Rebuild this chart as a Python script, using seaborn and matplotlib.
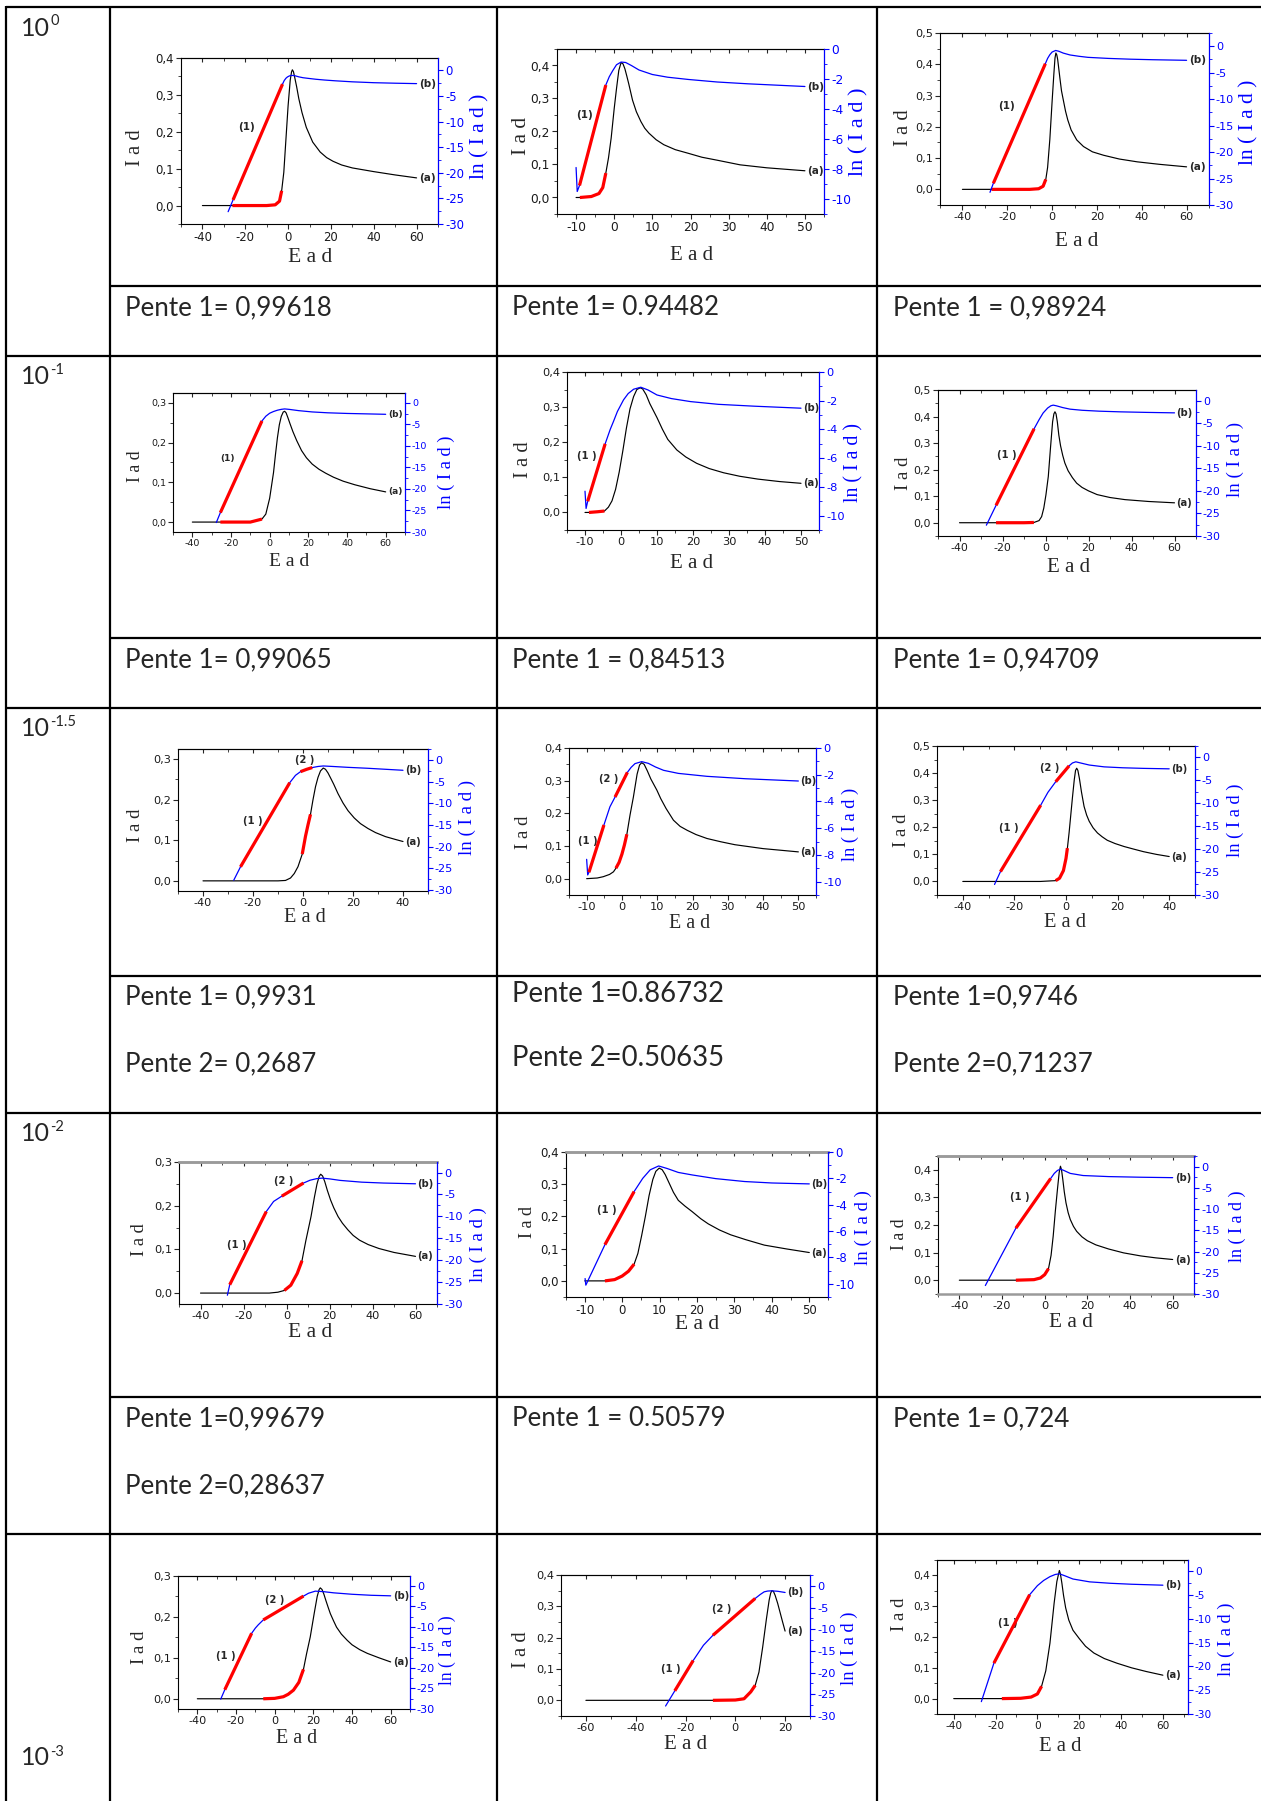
import numpy as np
import matplotlib
matplotlib.use("Agg")
import matplotlib.pyplot as plt
from matplotlib.ticker import MultipleLocator, FuncFormatter, NullFormatter
import seaborn as sns

W, H, DPI = 1261, 1801, 100

sns.set_style("ticks")
plt.rcParams.update({
    "font.family": ["DejaVu Sans"],
    "axes.unicode_minus": False,
})

BLUE = "#0000ff"
RED = "#ff0000"
SERIF = ["Liberation Serif", "DejaVu Serif"]
TEXT_FONT = ["Lato", "DejaVu Sans"]

# ---------------------------------------------------------------- data
# curve (a): I_ad vs E_ad (left axis); curve (b): ln(I_ad) vs E_ad (right axis)
# RED_*: E_ad ranges of the highlighted linear parts

# row 10^0
A11_X = [-40, -26, -10, -6, -4, -3, -2, -1, 0, 1, 1.6, 2, 2.5, 3, 4, 5, 6.5, 8.5, 11.5, 15, 18, 21, 25, 30, 35, 40, 50, 60]
A11_Y = [0, 0, 0, 0.002, 0.012, 0.04, 0.09, 0.18, 0.27, 0.34, 0.362, 0.368, 0.363, 0.35, 0.322, 0.29, 0.252, 0.212, 0.172, 0.145, 0.13, 0.12, 0.11, 0.102, 0.097, 0.092, 0.083, 0.075]
B11_X = [-28, -25.7, -2.6, -1.8, -1, -0.3, 0.5, 1, 1.6, 2.5, 3.5, 5, 7, 9.5, 13, 17, 22, 30, 40, 50, 60]
B11_Y = [-27.6, -25.3, -2.7, -2.0, -1.55, -1.3, -1.12, -1.05, -1.0, -1.02, -1.1, -1.28, -1.45, -1.58, -1.75, -1.9, -2.05, -2.25, -2.42, -2.52, -2.6]
RED_A11 = [(-26, -3)]
RED_B11 = [(-25.7, -2.6)]

A12_X = [-10, -9, -6, -4, -3, -2.2, -1.5, -0.8, 0, 0.6, 1.2, 1.8, 2.3, 2.8, 3.3, 3.8, 4.8, 5.8, 7, 8, 9.1, 11, 13, 16, 19.4, 23, 27, 33, 40, 50]
A12_Y = [0, 0, 0.003, 0.012, 0.03, 0.074, 0.12, 0.18, 0.27, 0.33, 0.385, 0.409, 0.405, 0.39, 0.368, 0.345, 0.295, 0.26, 0.23, 0.21, 0.195, 0.175, 0.16, 0.145, 0.134, 0.122, 0.113, 0.099, 0.09, 0.081]
B12_X = [-10, -9.7, -9.1, -2.2, -1.3, -0.4, 0.6, 1.8, 3, 4.5, 6.5, 10, 14, 19.4, 27, 35, 50]
B12_Y = [-7.9, -9.5, -9.1, -2.4, -1.85, -1.45, -1.05, -0.87, -0.9, -1.1, -1.4, -1.7, -1.88, -2.03, -2.2, -2.32, -2.5]
RED_A12 = [(-9, -2.2)]
RED_B12 = [(-9.1, -2.2)]

A13_X = [-40, -27, -10, -6, -4, -2.8, -2, -1, 0, 0.8, 1.3, 1.7, 2.1, 2.5, 3, 3.5, 4.2, 5, 6, 7, 8.5, 11, 14, 18, 23, 30, 38, 48, 60]
A13_Y = [0, 0, 0, 0.002, 0.01, 0.032, 0.07, 0.16, 0.28, 0.37, 0.42, 0.436, 0.43, 0.415, 0.385, 0.355, 0.315, 0.286, 0.25, 0.222, 0.19, 0.158, 0.137, 0.12, 0.109, 0.097, 0.088, 0.08, 0.072]
B13_X = [-27.7, -26.2, -3.0, -2, -1, 0, 1.6, 3, 5, 8, 12, 16, 25, 35, 45, 60]
B13_Y = [-27.6, -25.9, -3.3, -2.3, -1.6, -1.1, -0.8, -0.95, -1.3, -1.65, -1.9, -2.1, -2.3, -2.45, -2.55, -2.66]
RED_A13 = [(-27, -2.8)]
RED_B13 = [(-26.2, -3.0)]

# row 10^-1
A21_X = [-40, -25.5, -10, -4, -2, 0, 2, 3, 4, 5, 6, 7, 7.75, 8.5, 9.5, 10.5, 12, 14, 16.5, 19, 22, 25.5, 29, 33, 38, 44, 52, 60]
A21_Y = [0, 0, 0, 0.0075, 0.02, 0.06, 0.125, 0.17, 0.212, 0.245, 0.266, 0.277, 0.279, 0.275, 0.262, 0.248, 0.228, 0.205, 0.18, 0.162, 0.146, 0.133, 0.123, 0.113, 0.103, 0.094, 0.084, 0.076]
B21_X = [-27.6, -25.5, -4, -2, 0, 2, 4, 6, 7.75, 10, 15, 22, 30, 40, 50, 60]
B21_Y = [-27.8, -25.5, -4.2, -3.1, -2.4, -2.0, -1.7, -1.5, -1.4, -1.5, -1.8, -2.1, -2.3, -2.45, -2.55, -2.65]
RED_A21 = [(-25.5, -4)]
RED_B21 = [(-25.5, -4)]

A22_X = [-10, -8.9, -6.5, -4.6, -3.5, -2.5, -1.5, -0.5, 0.5, 1.5, 2.5, 3.5, 4.4, 5.3, 6, 7, 8, 9, 10, 11.5, 13, 15.5, 18, 21, 24.5, 28.5, 33, 38, 44, 50]
A22_Y = [0, 0, 0.002, 0.004, 0.015, 0.033, 0.066, 0.115, 0.175, 0.24, 0.295, 0.33, 0.35, 0.355, 0.352, 0.335, 0.31, 0.29, 0.27, 0.237, 0.208, 0.178, 0.158, 0.14, 0.125, 0.113, 0.103, 0.095, 0.088, 0.083]
B22_X = [-10, -9.7, -9.25, -4.4, -3, -2.1, -1, 0.7, 2, 3.5, 5.5, 7.5, 10, 14, 19.3, 27, 37, 50]
B22_Y = [-8.3, -9.5, -9.0, -5.0, -4.0, -3.45, -2.75, -1.94, -1.5, -1.2, -1.06, -1.25, -1.6, -1.85, -2.06, -2.25, -2.38, -2.52]
RED_A22 = [(-8.9, -4.6)]
RED_B22 = [(-9.25, -4.4)]

A23_X = [-40, -23, -10, -5.4, -3, -1.8, -0.8, 0.2, 1.3, 2.3, 3.3, 3.9, 4.4, 4.9, 5.5, 6.2, 7, 8, 9, 10.5, 12.5, 14.5, 17, 20, 24, 30, 37, 48, 60]
A23_Y = [0, 0, 0, 0.001, 0.008, 0.023, 0.055, 0.105, 0.174, 0.28, 0.38, 0.41, 0.418, 0.41, 0.38, 0.33, 0.29, 0.254, 0.225, 0.196, 0.17, 0.149, 0.133, 0.12, 0.106, 0.095, 0.087, 0.08, 0.075]
B23_X = [-27.5, -23, -5.3, -3, -1.1, 1, 2.5, 3.6, 5, 8, 11.4, 17, 25, 35, 47, 60]
B23_Y = [-27.6, -23.2, -6.2, -4.2, -2.7, -1.6, -1.1, -0.96, -1.1, -1.5, -1.85, -2.1, -2.3, -2.45, -2.57, -2.67]
RED_A23 = [(-23, -5.4)]
RED_B23 = [(-23, -5.3)]

# row 10^-1.5
A31_X = [-40, -10, -7, -5, -3.5, -2, -0.3, 1, 2, 3, 4, 5, 6, 7, 8.1, 9, 10, 11, 12.3, 14, 16, 18, 20.5, 23, 26, 29, 33, 37, 40]
A31_Y = [0, 0, 0.001, 0.007, 0.018, 0.035, 0.066, 0.11, 0.138, 0.164, 0.2, 0.232, 0.255, 0.271, 0.278, 0.275, 0.266, 0.254, 0.238, 0.215, 0.192, 0.173, 0.155, 0.141, 0.129, 0.119, 0.109, 0.102, 0.097]
B31_X = [-27.7, -25, -5.3, -3, -1, 1.5, 3.7, 6, 8.1, 12, 18, 25.7, 33, 40]
B31_Y = [-27.8, -24.7, -5.2, -3.5, -2.65, -2.1, -1.7, -1.45, -1.33, -1.45, -1.65, -1.86, -2.1, -2.33]
RED_A31 = [(-0.3, 3)]
RED_B31 = [(-25, -5.3), (-1, 3.7)]

A32_X = [-10, -7, -5.3, -3.5, -2.4, -1.7, -0.8, 0, 0.7, 1.4, 2.3, 3.25, 4.3, 5, 5.6, 6.3, 7.2, 8.2, 9.9, 11, 12.5, 14.6, 16.5, 18.5, 21, 24.1, 28, 32, 40, 50]
A32_Y = [0, 0.002, 0.006, 0.013, 0.021, 0.032, 0.05, 0.075, 0.103, 0.136, 0.195, 0.25, 0.32, 0.348, 0.355, 0.35, 0.33, 0.305, 0.271, 0.245, 0.215, 0.179, 0.16, 0.148, 0.135, 0.123, 0.113, 0.104, 0.092, 0.082]
B32_X = [-10, -9.7, -9.35, -5.1, -3.4, -1.95, 1.55, 2.6, 3.7, 5.6, 7.5, 9.5, 11.8, 16, 24.1, 35, 50]
B32_Y = [-8.33, -9.5, -9.3, -5.76, -4.4, -3.67, -1.82, -1.45, -1.17, -1.02, -1.15, -1.42, -1.67, -1.9, -2.12, -2.3, -2.47]
RED_A32 = [(-1.7, 1.4)]
RED_B32 = [(-9.35, -5.1), (-1.95, 1.55)]

A33_X = [-40, -10, -4, -2.5, -1, 0, 0.54, 1.2, 1.8, 2.5, 3.2, 3.7, 4.15, 4.6, 5.2, 6, 7, 8, 9, 10.5, 12.2, 14, 16, 19, 22.5, 26, 30, 35, 40]
A33_Y = [0, 0, 0.003, 0.012, 0.04, 0.085, 0.123, 0.18, 0.24, 0.31, 0.375, 0.41, 0.418, 0.41, 0.38, 0.33, 0.277, 0.245, 0.222, 0.198, 0.179, 0.165, 0.152, 0.14, 0.129, 0.12, 0.11, 0.1, 0.092]
B33_X = [-27.7, -25.4, -9.8, -7, -4, 1.2, 2.5, 3.8, 6, 9, 14.8, 22, 30, 40]
B33_Y = [-27.7, -24.9, -10.4, -7.6, -5.3, -1.83, -1.2, -0.95, -1.25, -1.65, -2.05, -2.25, -2.38, -2.48]
RED_A33 = [(-4, 0.54)]
RED_B33 = [(-25.4, -9.8), (-4, 1.2)]

# row 10^-2
A41_X = [-40, -8, -4, -1, 2, 5, 7.2, 9, 11.4, 13, 14.2, 15.2, 15.9, 16.8, 17.8, 19, 20.5, 22, 24, 26, 28.5, 31, 34, 38, 43, 50, 60]
A41_Y = [0, 0, 0.002, 0.006, 0.018, 0.045, 0.074, 0.12, 0.175, 0.22, 0.25, 0.267, 0.272, 0.268, 0.255, 0.235, 0.213, 0.195, 0.175, 0.16, 0.145, 0.132, 0.121, 0.111, 0.102, 0.093, 0.084]
B41_X = [-27.5, -26.4, -9.4, -6, -2.2, 7.9, 11, 14, 16.6, 20, 25, 35, 45, 60]
B41_Y = [-28, -25.6, -8.9, -6.6, -5.4, -2.4, -1.75, -1.4, -1.28, -1.45, -1.8, -2.2, -2.4, -2.57]
RED_A41 = [(-1, 7.2)]
RED_B41 = [(-26.4, -9.4), (-2.2, 7.9)]

A42_X = [-10, -4.6, -2, 0, 1.7, 3.2, 4.2, 5.2, 6.2, 7.2, 8.2, 9, 9.9, 10.7, 11.5, 12.5, 13.7, 15, 16.8, 18.7, 21, 23, 26, 29, 33, 38, 44, 50]
A42_Y = [0, 0, 0.004, 0.015, 0.03, 0.052, 0.085, 0.14, 0.2, 0.265, 0.315, 0.34, 0.35, 0.345, 0.33, 0.305, 0.275, 0.25, 0.232, 0.215, 0.193, 0.177, 0.158, 0.143, 0.128, 0.111, 0.099, 0.088]
B42_X = [-9.9, -9.7, -4.6, 3.2, 5.5, 7.5, 9.75, 12, 15, 18.7, 25, 32.7, 40, 50]
B42_Y = [-9.6, -10.1, -7.03, -3.0, -2.0, -1.35, -1.06, -1.25, -1.55, -1.74, -2.02, -2.24, -2.35, -2.42]
RED_A42 = [(-4.6, 3.2)]
RED_B42 = [(-4.6, 3.2)]

A43_X = [-40, -13.5, -5, -2, 0, 1.8, 3, 4, 5, 6, 6.8, 7.4, 7.9, 8.5, 9.2, 10, 11, 12, 13.5, 15, 17.5, 20, 24, 30, 37, 45, 52, 60]
A43_Y = [0, 0, 0.002, 0.008, 0.02, 0.042, 0.09, 0.16, 0.25, 0.33, 0.39, 0.413, 0.4, 0.365, 0.32, 0.28, 0.245, 0.22, 0.195, 0.177, 0.157, 0.143, 0.128, 0.113, 0.099, 0.088, 0.081, 0.075]
B43_X = [-27.8, -13.5, 2.8, 4.5, 6, 7.4, 9, 12, 18, 30, 45, 60]
B43_Y = [-28, -14.5, -2.8, -1.6, -0.9, -0.6, -0.9, -1.6, -2.1, -2.35, -2.5, -2.6]
RED_A43 = [(-13.5, 1.8)]
RED_B43 = [(-13.5, 2.8)]

# row 10^-3
A51_X = [-40, -5.9, 0, 4.5, 7, 9.7, 12.5, 14.9, 16.5, 18.4, 20.5, 22, 23, 23.6, 24.5, 25.5, 26.5, 27.7, 28.8, 30.5, 32, 34.5, 37.5, 40, 44, 47.9, 54, 60]
A51_Y = [0, 0, 0.001, 0.005, 0.011, 0.021, 0.04, 0.072, 0.11, 0.151, 0.21, 0.25, 0.267, 0.271, 0.267, 0.255, 0.24, 0.223, 0.208, 0.19, 0.175, 0.158, 0.143, 0.132, 0.12, 0.111, 0.1, 0.09]
B51_X = [-27.9, -25.8, -11.9, -10, -8.5, -5.9, 14.9, 17.5, 21, 25, 30.5, 40, 50, 60]
B51_Y = [-27.6, -25.3, -11.55, -10.3, -9.5, -8.3, -2.5, -1.8, -1.29, -1.4, -1.7, -2.05, -2.3, -2.43]
RED_A51 = [(-5.9, 14.9)]
RED_B51 = [(-25.8, -11.9), (-5.9, 14.9)]

A52_X = [-60, -9, 0, 3.5, 6.2, 8, 9.5, 11, 12.5, 13.6, 14.2, 14.7, 15.3, 16, 17, 18, 19, 20]
A52_Y = [0, 0, 0.001, 0.005, 0.027, 0.048, 0.09, 0.17, 0.26, 0.32, 0.342, 0.35, 0.348, 0.335, 0.31, 0.28, 0.25, 0.221]
B52_X = [-28, -24.3, -16.9, -12.8, -9, 8, 10, 11.6, 13, 14.5, 17, 20]
B52_Y = [-27.7, -24.2, -17.2, -13.7, -11.4, -2.9, -2.0, -1.38, -1.2, -1.15, -1.25, -1.53]
RED_A52 = [(-9, 8)]
RED_B52 = [(-24.3, -16.9), (-9, 8)]

A53_X = [-40, -17, -8, -3, 0, 2, 4, 6, 8, 9.3, 10.5, 11, 11.7, 12.5, 13.5, 15, 17, 20, 23, 27, 32, 38, 45, 52, 60]
A53_Y = [0, 0, 0.001, 0.005, 0.015, 0.04, 0.09, 0.18, 0.31, 0.38, 0.416, 0.405, 0.375, 0.335, 0.295, 0.255, 0.222, 0.195, 0.17, 0.148, 0.13, 0.115, 0.1, 0.088, 0.076]
B53_X = [-26.8, -20.8, -3.7, 0, 3, 6, 8.5, 10.5, 13, 17, 25, 35, 45, 60]
B53_Y = [-27.4, -19.3, -4.9, -3.0, -1.9, -1.1, -0.65, -0.5, -0.9, -1.6, -2.2, -2.5, -2.7, -2.9]
RED_A53 = [(-17, 2)]
RED_B53 = [(-20.8, -3.7)]

ROW_EXPONENTS = ["0", "-1", "-1.5", "-2", "-3"]

PENTE_TEXT = [
    ["Pente 1= 0,99618"], ["Pente 1= 0.94482"], ["Pente 1 = 0,98924"],
    ["Pente 1= 0,99065"], ["Pente 1 = 0,84513"], ["Pente 1= 0,94709"],
    ["Pente 1= 0,9931", "Pente 2= 0,2687"], ["Pente 1=0.86732", "Pente 2=0.50635"],
    ["Pente 1=0,9746", "Pente 2=0,71237"],
    ["Pente 1=0,99679", "Pente 2=0,28637"], ["Pente 1 = 0.50579"], ["Pente 1= 0,724"],
]

# ---------------------------------------------------------------- layout
# box = (left, right, top, bottom) in pixels; label centres in pixels
# fs: tick labels, xls/yls/rls: axis titles, an: curve tags
PANELS = [
    dict(a=(A11_X, A11_Y), b=(B11_X, B11_Y), ra=RED_A11, rb=RED_B11,
         box=(181, 438, 58, 224), xlim=(-50, 70), xs=20, ylim=(-0.05, 0.4), lnlim=(-30, 2.4), lns=5,
         xl=(310, 258), yl=(136, 148), rl=(480, 136), fs=8.4, xls=15.6, yls=14.9, rls=15.4, an=7.5,
         tags=[("(1)", -19.4, 0.213)]),
    dict(a=(A12_X, A12_Y), b=(B12_X, B12_Y), ra=RED_A12, rb=RED_B12,
         box=(557, 824, 49, 214), xlim=(-15, 55), xs=10, ylim=(-0.05, 0.45), lnlim=(-11, 0), lns=2,
         xl=(692, 255), yl=(521, 136), rl=(859, 132), fs=8.8, xls=15, yls=15.4, rls=16, an=7.5,
         tags=[("(1)", -7.9, 0.25)]),
    dict(a=(A13_X, A13_Y), b=(B13_X, B13_Y), ra=RED_A13, rb=RED_B13,
         box=(940, 1209, 33, 205), xlim=(-50, 70), xs=20, ylim=(-0.05, 0.5), lnlim=(-30, 2.5), lns=5,
         xl=(1077, 242), yl=(903, 128), rl=(1249, 122), fs=8.1, xls=15.2, yls=14.9, rls=15.4, an=7.5,
         tags=[("(1)", -20.5, 0.265)]),
    dict(a=(A21_X, A21_Y), b=(B21_X, B21_Y), ra=RED_A21, rb=RED_B21,
         box=(173, 405, 393, 532), xlim=(-50, 70), xs=20, ylim=(-0.025, 0.325), lnlim=(-30, 2.3), lns=5,
         xl=(289, 561), yl=(135, 466), rl=(446, 472), fs=6.8, xls=14, yls=12.8, rls=13.3, an=6.5,
         tags=[("(1)", -21.6, 0.16)]),
    dict(a=(A22_X, A22_Y), b=(B22_X, B22_Y), ra=RED_A22, rb=RED_B22,
         box=(567, 819, 372, 530), xlim=(-15, 55), xs=10, ylim=(-0.05, 0.4), lnlim=(-11, 0), lns=2,
         xl=(692, 564), yl=(524, 460), rl=(854, 462), fs=8.2, xls=15, yls=14.9, rls=14.2, an=7.2,
         tags=[("(1 )", -9.4, 0.16)]),
    dict(a=(A23_X, A23_Y), b=(B23_X, B23_Y), ra=RED_A23, rb=RED_B23,
         box=(938, 1196, 390, 536), xlim=(-50, 70), xs=20, ylim=(-0.05, 0.5), lnlim=(-30, 2.4), lns=5,
         xl=(1069, 567), yl=(903, 473), rl=(1235, 459), fs=7.9, xls=15, yls=13.5, rls=13.6, an=7.2,
         tags=[("(1 )", -18.2, 0.255)]),
    dict(a=(A31_X, A31_Y), b=(B31_X, B31_Y), ra=RED_A31, rb=RED_B31,
         box=(178, 428, 749, 891), xlim=(-50, 50), xs=20, ylim=(-0.025, 0.325), lnlim=(-30.3, 2.6), lns=5,
         xl=(305, 917), yl=(135, 825), rl=(467, 817), fs=8.1, xls=14.6, yls=13.5, rls=13.6, an=7.2,
         tags=[("(1 )", -20.2, 0.1475), ("(2 )", 0.5, 0.2985)]),
    dict(a=(A32_X, A32_Y), b=(B32_X, B32_Y), ra=RED_A32, rb=RED_B32,
         box=(569, 816, 748, 895), xlim=(-15, 55), xs=10, ylim=(-0.05, 0.4), lnlim=(-11, 0), lns=2,
         xl=(690, 923), yl=(523, 832), rl=(850, 824), fs=8.2, xls=14.4, yls=13.5, rls=13.2, an=7.2,
         tags=[("(1 )", -9.7, 0.116), ("(2 )", -3.66, 0.304)]),
    dict(a=(A33_X, A33_Y), b=(B33_X, B33_Y), ra=RED_A33, rb=RED_B33,
         box=(937, 1195, 746, 895), xlim=(-50, 50), xs=20, ylim=(-0.05, 0.5), lnlim=(-30, 2.5), lns=5,
         xl=(1065, 922), yl=(901, 830), rl=(1235, 820), fs=8.1, xls=14.8, yls=13.5, rls=13.3, an=7.2,
         tags=[("(1 )", -22.1, 0.197), ("(2 )", -6.2, 0.42)]),
    dict(a=(A41_X, A41_Y), b=(B41_X, B41_Y), ra=RED_A41, rb=RED_B41,
         box=(179, 437, 1162, 1304), xlim=(-50, 70), xs=20, ylim=(-0.025, 0.3), lnlim=(-30, 2.4), lns=5,
         xl=(310, 1332), yl=(139, 1240), rl=(478, 1245), fs=8.2, xls=15.6, yls=13.2, rls=13.5, an=7.2,
         tags=[("(1 )", -23.3, 0.109), ("(2 )", -1.5, 0.257)], gray_top=True),
    dict(a=(A42_X, A42_Y), b=(B42_X, B42_Y), ra=RED_A42, rb=RED_B42,
         box=(566, 828, 1152, 1297), xlim=(-15, 55), xs=10, ylim=(-0.05, 0.4), lnlim=(-11, 0), lns=2,
         xl=(697, 1324), yl=(527, 1222), rl=(863, 1228), fs=8.5, xls=15.5, yls=13.1, rls=13.5, an=7.2,
         tags=[("(1 )", -4.0, 0.219)], gray_top=True),
    dict(a=(A43_X, A43_Y), b=(B43_X, B43_Y), ra=RED_A43, rb=RED_B43,
         box=(938, 1194, 1156, 1294), xlim=(-50, 70), xs=20, ylim=(-0.05, 0.45), lnlim=(-30, 2.5), lns=5,
         xl=(1071, 1322), yl=(899, 1234), rl=(1237, 1226), fs=8.2, xls=15.3, yls=12.8, rls=13, an=7.2,
         tags=[("(1 )", -11.7, 0.302)], gray_top=True, gray_bottom=True),
    dict(a=(A51_X, A51_Y), b=(B51_X, B51_Y), ra=RED_A51, rb=RED_B51,
         box=(178, 410, 1576, 1709), xlim=(-50, 70), xs=20, ylim=(-0.025, 0.3), lnlim=(-30, 2.4), lns=5,
         xl=(297, 1738), yl=(139, 1647), rl=(447, 1650), fs=8.1, xls=14.4, yls=13.5, rls=12.7, an=7.2,
         tags=[("(1 )", -25.4, 0.104), ("(2 )", 0.2, 0.241)]),
    dict(a=(A52_X, A52_Y), b=(B52_X, B52_Y), ra=RED_A52, rb=RED_B52,
         box=(561, 810, 1575, 1716), xlim=(-70, 30), xs=20, ylim=(-0.05, 0.4), lnlim=(-30, 2.5), lns=5,
         xl=(686, 1744), yl=(522, 1650), rl=(849, 1648), fs=8.2, xls=15, yls=14.9, rls=13.3, an=7.2,
         tags=[("(1 )", -25.7, 0.101), ("(2 )", -5.3, 0.29)]),
    dict(a=(A53_X, A53_Y), b=(B53_X, B53_Y), ra=RED_A53, rb=RED_B53,
         box=(937, 1188, 1560, 1714), xlim=(-48, 72), xs=20, ylim=(-0.05, 0.45), lnlim=(-30, 2.4), lns=5,
         xl=(1060, 1746), yl=(900, 1614), rl=(1226, 1639), fs=7.6, xls=14.9, yls=13.5, rls=13.3, an=7.2,
         tags=[("(1 )", -14.2, 0.246)]),
]

ROW_TOPS = [7, 356, 708, 1113, 1534]
SUB_LINES = [286, 638.5, 976, 1396.5]
COL_X = [6, 110, 496.5, 877]
ROW_BASE = [36, 384, 736, 1141, 1765]
ROW_SUP_BASE = [25, 374, 726, 1131, 1756]
PENTE_X = [125, 511.5, 893]
PENTE_BASE = [[315], [667], [1004, 1071.5], [1426, 1493]]


def comma_fmt(v, _):
    if abs(v) < 1e-9:
        v = 0.0
    return f"{v:.1f}".replace(".", ",")


def int_fmt(v, _):
    return f"{int(round(v))}"


fig = plt.figure(figsize=(W / DPI, H / DPI), dpi=DPI)

bg = fig.add_axes([0, 0, 1, 1])
bg.set_xlim(0, W)
bg.set_ylim(H, 0)
bg.axis("off")
bg.set_zorder(-5)

# table grid
TLW = 1.6
for x in COL_X:
    bg.plot([x, x], [ROW_TOPS[0] - 1, H], color="black", lw=TLW, solid_capstyle="butt")
for y in ROW_TOPS:
    bg.plot([COL_X[0], W], [y, y], color="black", lw=TLW, solid_capstyle="butt")
for y in SUB_LINES:
    bg.plot([COL_X[1], W], [y, y], color="black", lw=TLW, solid_capstyle="butt")

# concentration labels in the first column
for base, sup_base, e in zip(ROW_BASE, ROW_SUP_BASE, ROW_EXPONENTS):
    bg.text(21, base, "10", fontfamily=TEXT_FONT, fontsize=18, va="baseline", ha="left")
    bg.text(50.5, sup_base, e, fontfamily=TEXT_FONT, fontsize=10.5, va="baseline", ha="left")

# slope values under each graph
for i, lines in enumerate(PENTE_TEXT):
    row, col = divmod(i, 3)
    narrow = (row == 2 and col == 1)
    for k, s in enumerate(lines):
        y = [1001.5, 1066][k] if narrow else PENTE_BASE[row][k]
        bg.text(PENTE_X[col], y, s, fontfamily=TEXT_FONT, fontsize=19.8 if narrow else 18.7,
                va="baseline", ha="left")


def draw_panel(p):
    l, r, t, b = p["box"]
    w, h = r - l, b - t
    ax = fig.add_axes([l / W, 1 - b / H, w / W, h / H])
    ax.patch.set_alpha(0)
    ax2 = ax.twinx()

    xa, ya = np.asarray(p["a"][0], float), np.asarray(p["a"][1], float)
    xb, yb = np.asarray(p["b"][0], float), np.asarray(p["b"][1], float)

    sns.lineplot(x=xa, y=ya, ax=ax, color="black", linewidth=0.85, sort=False,
                 estimator=None, legend=False)
    for lo, hi in p["ra"]:
        m = (xa >= lo - 1e-9) & (xa <= hi + 1e-9)
        sns.lineplot(x=xa[m], y=ya[m], ax=ax, color=RED, linewidth=2.3, sort=False,
                     estimator=None, legend=False, solid_capstyle="butt")
    sns.lineplot(x=xb, y=yb, ax=ax2, color=BLUE, linewidth=0.9, sort=False,
                 estimator=None, legend=False)
    for lo, hi in p["rb"]:
        m = (xb >= lo - 1e-9) & (xb <= hi + 1e-9)
        sns.lineplot(x=xb[m], y=yb[m], ax=ax2, color=RED, linewidth=2.3, sort=False,
                     estimator=None, legend=False, solid_capstyle="butt")

    ax.set_xlim(*p["xlim"])
    ax.set_ylim(*p["ylim"])
    ax2.set_ylim(*p["lnlim"])

    ax.xaxis.set_major_locator(MultipleLocator(p["xs"]))
    ax.xaxis.set_minor_locator(MultipleLocator(p["xs"] / 2))
    ax.xaxis.set_major_formatter(FuncFormatter(int_fmt))
    ax.yaxis.set_major_locator(MultipleLocator(0.1))
    ax.yaxis.set_minor_locator(MultipleLocator(0.05))
    ax.yaxis.set_major_formatter(FuncFormatter(comma_fmt))
    ax2.yaxis.set_major_locator(MultipleLocator(p["lns"]))
    ax2.yaxis.set_minor_locator(MultipleLocator(p["lns"] / 2))
    ax2.yaxis.set_major_formatter(FuncFormatter(int_fmt))

    fs = p["fs"]
    ax.tick_params(axis="x", which="both", bottom=True, top=False, direction="out")
    ax.tick_params(axis="y", which="both", left=True, right=False, direction="out")
    ax.tick_params(which="major", length=3.5, width=0.8, labelsize=fs, labelcolor="#1a1a1a", pad=1.5)
    ax.tick_params(which="minor", length=2, width=0.6)
    ax2.tick_params(axis="y", which="both", direction="out", colors=BLUE, labelsize=fs, pad=1.5)
    ax2.tick_params(which="major", length=3.5, width=0.8)
    ax2.tick_params(which="minor", length=2, width=0.6)

    for s in ("left", "bottom", "top"):
        ax.spines[s].set_linewidth(0.8)
        ax.spines[s].set_color("black")
        ax2.spines[s].set_visible(False)
    ax.spines["right"].set_visible(False)
    ax2.spines["right"].set_color(BLUE)
    ax2.spines["right"].set_linewidth(0.9)

    top = ax.secondary_xaxis("top")
    top.xaxis.set_major_locator(MultipleLocator(p["xs"]))
    top.xaxis.set_minor_locator(MultipleLocator(p["xs"] / 2))
    top.xaxis.set_major_formatter(NullFormatter())
    top.tick_params(axis="x", which="major", direction="in", length=3, width=0.8)
    top.tick_params(axis="x", which="minor", direction="in", length=1.8, width=0.6)
    top.spines["top"].set_linewidth(0.8)
    if p.get("gray_top"):
        top.spines["top"].set_color("#9a9a9a")
        top.spines["top"].set_linewidth(1.8)
        ax.spines["top"].set_color("#9a9a9a")
        ax.spines["top"].set_linewidth(1.8)
    if p.get("gray_bottom"):
        ax.spines["bottom"].set_color("#9a9a9a")
        ax.spines["bottom"].set_linewidth(1.8)

    ax.set_xlabel("E a d", fontfamily=SERIF, fontsize=p["xls"], va="center", ha="center")
    ax.xaxis.set_label_coords((p["xl"][0] - l) / w, (b - p["xl"][1]) / h)
    ax.set_ylabel("I a d", fontfamily=SERIF, fontsize=p["yls"], va="center", ha="center")
    ax.yaxis.set_label_coords((p["yl"][0] - l) / w, (b - p["yl"][1]) / h)
    ax2.set_ylabel("ln ( I a d )", fontfamily=SERIF, fontsize=p["rls"], color=BLUE,
                   va="center", ha="center", rotation=90)
    ax2.yaxis.set_label_coords((p["rl"][0] - l) / w, (b - p["rl"][1]) / h)

    an = p["an"]
    ax.annotate("(a)", xy=(xa[-1], ya[-1]), xytext=(1.5, 0), textcoords="offset points",
                ha="left", va="center", fontsize=an, fontweight="bold")
    ax2.annotate("(b)", xy=(xb[-1], yb[-1]), xytext=(1.5, 0), textcoords="offset points",
                 ha="left", va="center", fontsize=an, fontweight="bold")
    for s, x, y in p["tags"]:
        ax.text(x, y, s, ha="center", va="center", fontsize=an, fontweight="bold")


for p in PANELS:
    draw_panel(p)

fig.savefig("out.png", dpi=DPI)
